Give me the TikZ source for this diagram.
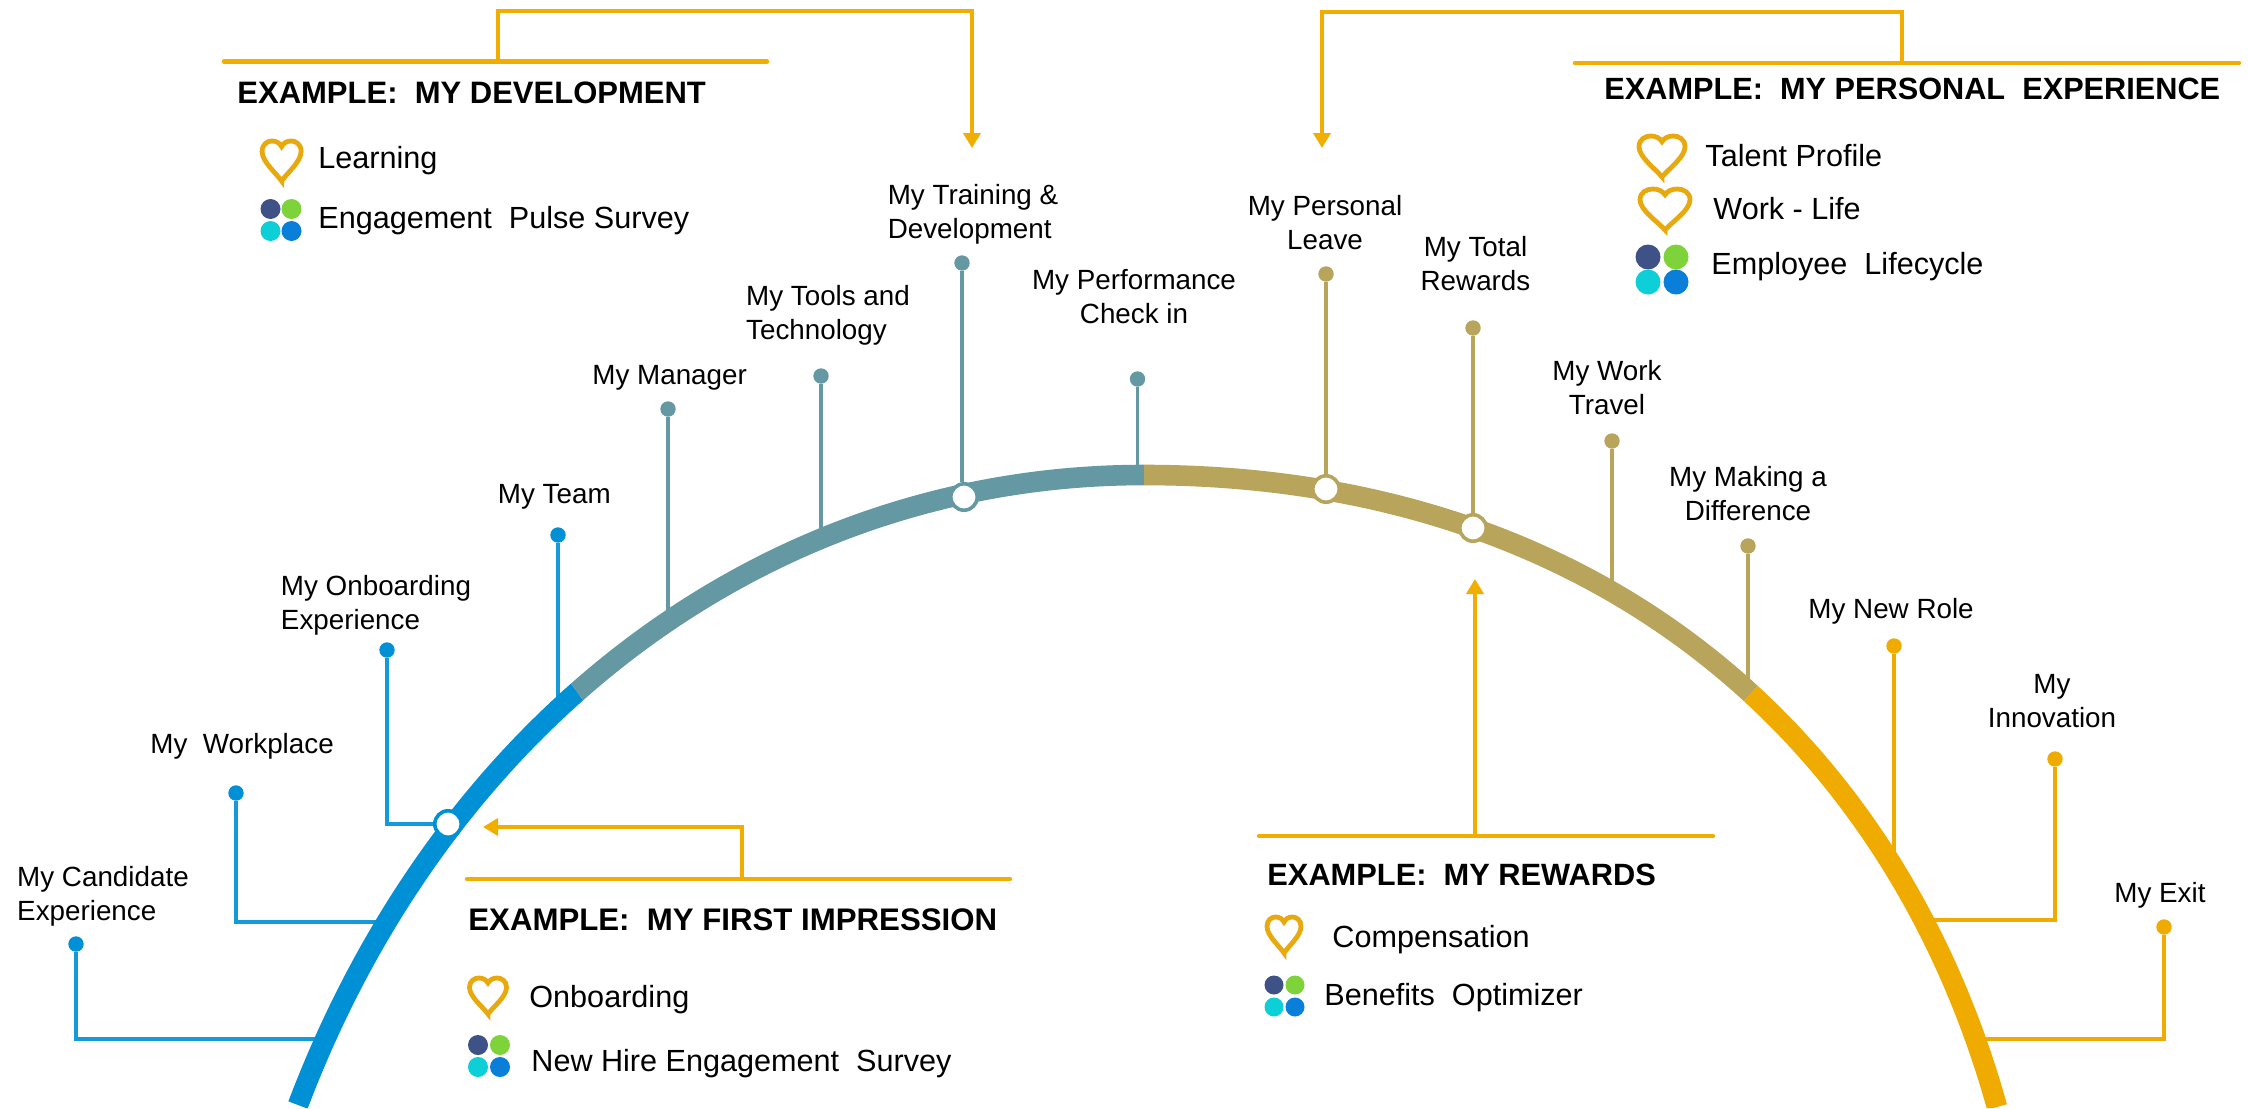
\documentclass[tikz,border=0pt]{standalone}
\usepackage{fontspec}
\setmainfont{Liberation Sans}
\usetikzlibrary{arrows.meta,calc}
\definecolor{cblue}{HTML}{0090D6}
\definecolor{cteal}{HTML}{6499A3}
\definecolor{cgold}{HTML}{B8A45B}
\definecolor{cyell}{HTML}{F0AB00}
\definecolor{corange}{HTML}{F2AE00}
\definecolor{cheart}{HTML}{E8A90E}
\definecolor{tnavy}{HTML}{3F5288}
\definecolor{tgreen}{HTML}{7ED33A}
\definecolor{tcyan}{HTML}{0CCFD8}
\definecolor{tblue}{HTML}{0A7FD9}
\newcommand{\lstrut}{\rule[-4pt]{0pt}{11pt}}
\newcommand{\curveline}[1]{\draw[line width=10.3pt,#1] (298,1105) .. controls (443,722) and (764,475) .. (1144,475) .. controls (1594,475) and (1892.5,733) .. (1997,1107);}
\newcommand{\heartshape}[5]{\begin{scope}[shift={(#2,#3)},xscale=#4,yscale=#5]
\draw[heartline] (0,1) .. controls (-.14,.8) and (-.5,.52) .. (-.5,.26) .. controls (-.5,.08) and (-.36,0) .. (-.25,0) .. controls (-.13,0) and (-.05,.05) .. (0,.14) .. controls (.05,.05) and (.13,0) .. (.25,0) .. controls (.36,0) and (.5,.08) .. (.5,.26) .. controls (.5,.52) and (.14,.8) .. cycle;
\end{scope}}
\newcommand{\tiles}[5]{\fill[tnavy] (#1-#3,#2-#4) circle[radius=#5];
\fill[tgreen] (#1+#3,#2-#4) circle[radius=#5];
\fill[tcyan] (#1-#3,#2+#4) circle[radius=#5];
\fill[tblue] (#1+#3,#2+#4) circle[radius=#5];}
\tikzset{
  lab/.style={font=\fontsize{13.9pt}{17pt}\selectfont,inner sep=0pt,anchor=base west},
  labc/.style={font=\fontsize{13.9pt}{17pt}\selectfont,inner sep=0pt,anchor=center,align=center},
  labl/.style={font=\fontsize{13.9pt}{17pt}\selectfont,inner sep=0pt,anchor=center,align=left},
  bodytext/.style={font=\fontsize{15.3pt}{18pt}\selectfont,inner sep=0pt,anchor=base west},
  titletext/.style={font=\fontsize{#1}{18pt}\selectfont\bfseries,inner sep=0pt,anchor=base west},
  dotnode/.style={circle,inner sep=0pt,minimum size=7.7pt,fill=#1,draw=none},
  ringnode/.style={circle,inner sep=0pt,minimum size=13.2pt,fill=white,draw=#1,line width=1.8pt},
  stem/.style={line width=1.8pt,draw=#1},
  bar/.style={line width=2.2pt,draw=corange,line cap=round},
  linkarrow/.style={line width=2pt,draw=corange,-{Triangle[length=7.5pt,width=8.5pt]}},
  heartline/.style={draw=cheart,line width=2.4pt,line join=miter,fill=white},
}
\begin{document}
\begin{tikzpicture}[x=0.5pt,y=-0.5pt]
\useasboundingbox (0,0) rectangle (2248,1108);
\fill[white] (0,0) rectangle (2248,1108);
% stem nodes
\node[dotnode=cblue] (d1) at (76,944) {};
\node[dotnode=cblue] (d2) at (236,793) {};
\node[dotnode=cblue] (d3) at (387,650) {};
\node[dotnode=cblue] (d4) at (558,535) {};
\node[dotnode=cteal] (d5) at (668,409) {};
\node[dotnode=cteal] (d6) at (821,376) {};
\node[dotnode=cteal] (d7) at (962,263) {};
\node[dotnode=cteal] (d8) at (1137.5,379) {};
\node[dotnode=cgold] (d9) at (1326,274) {};
\node[dotnode=cgold] (d10) at (1473,328) {};
\node[dotnode=cgold] (d11) at (1612,441) {};
\node[dotnode=cgold] (d12) at (1748,546) {};
\node[dotnode=cyell] (d13) at (1894,646) {};
\node[dotnode=cyell] (d14) at (2055,759) {};
\node[dotnode=cyell] (d15) at (2164,927) {};
\coordinate (e1) at (323,1039);
\coordinate (e2) at (382,922);
\coordinate (e4) at (558,712);
\coordinate (e5) at (668,623);
\coordinate (e6) at (821,545);
\coordinate (e8) at (1137.5,480);
\coordinate (e11) at (1612,597);
\coordinate (e12) at (1748,690);
\coordinate (e13) at (1894,863);
\coordinate (e14) at (1927,920);
\coordinate (e15) at (1978,1039);
\draw[stem=cblue!92!white] (d1) |- (e1);
\draw[stem=cblue!92!white] (d2) |- (e2);
\draw[stem=cblue!92!white] (d4) -- (e4);
\draw[stem=cteal] (d5) -- (e5);
\draw[stem=cteal] (d6) -- (e6);
\draw[stem=cteal] (d8) -- (e8);
\draw[stem=cgold] (d11) -- (e11);
\draw[stem=cgold] (d12) -- (e12);
\draw[stem=cyell] (d13) -- (e13);
\draw[stem=cyell] (d14) |- (e14);
\draw[stem=cyell] (d15) |- (e15);
% the band
\begin{scope}\clip (70,0) -- (882,1108) -- (0,1108) -- (0,0) -- cycle; \curveline{cblue} \end{scope}
\begin{scope}\clip (70,0) -- (1144,0) -- (1144,1108) -- (882,1108) -- cycle; \curveline{cteal} \end{scope}
\begin{scope}\clip (1144,0) -- (2395,0) -- (1366,1108) -- (1144,1108) -- cycle; \curveline{cgold} \end{scope}
\begin{scope}\clip (2395,0) -- (2600,0) -- (2600,1108) -- (1366,1108) -- cycle; \curveline{cyell} \end{scope}
% ring nodes
\node[ringnode=cblue] (r1) at (448,824) {};
\node[ringnode=cteal] (r2) at (964,497) {};
\node[ringnode=cgold] (r3) at (1326,489) {};
\node[ringnode=cgold] (r4) at (1473,528) {};
\draw[stem=cblue!92!white] (d3) |- (r1.west);
\draw[stem=cteal] (d7) -- (d7 |- r2.north);
\draw[stem=cgold] (d9) -- (r3.north);
\draw[stem=cgold] (d10) -- (r4.north);
% labels
\node[labl] (l1) at (103,897) {My Candidate\lstrut\\Experience\lstrut};
\node[lab] (l2) at (150,753) {My\ \ Workplace};
\node[labl] (l3) at (376,606) {My Onboarding\lstrut\\Experience\lstrut};
\node[lab] (l4) at (497.5,503) {My Team};
\node[lab] (l5) at (592,384) {My Manager};
\node[labl] (l6) at (828,316) {My Tools and\lstrut\\Technology\lstrut};
\node[labl] (l7) at (973,215) {My Training \&\lstrut\\Development\lstrut};
\node[labc] (l8) at (1134,300) {My Performance\lstrut\\Check in\lstrut};
\node[labc] (l9) at (1325,226) {My Personal\lstrut\\Leave\lstrut};
\node[labc] (l10) at (1475.5,267) {My Total\lstrut\\Rewards\lstrut};
\node[labc] (l11) at (1607,391) {My Work\lstrut\\Travel\lstrut};
\node[labc] (l12) at (1748,497) {My Making a\lstrut\\Difference\lstrut};
\node[lab] (l13) at (1808,618) {My New Role};
\node[labc] (l14) at (2052,705) {My\lstrut\\Innovation\lstrut};
\node[lab] (l15) at (2114,902) {My Exit};
% titled boxes
\coordinate (b1l) at (224,61.5); \coordinate (b1r) at (767,61.5);
\coordinate (b2l) at (1575,63); \coordinate (b2r) at (2239,63);
\coordinate (b3l) at (467,879); \coordinate (b3r) at (1010,879);
\coordinate (b4l) at (1259,836); \coordinate (b4r) at (1713,836);
\foreach \a/\b in {b1l/b1r,b2l/b2r,b3l/b3r,b4l/b4r} \draw[bar] (\a) -- (\b);
\coordinate (f1) at (498,60); \coordinate (t1) at (972,148);
\coordinate (f2) at (1902,62); \coordinate (t2) at (1322,148);
\coordinate (f3) at (742,878); \coordinate (t3) at (483,827);
\coordinate (f4) at (1475,835); \coordinate (t4) at (1475,579);
\draw[linkarrow] (f1) -- (498,11) -- (972,11) -- (t1);
\draw[linkarrow] (f2) -- (1902,12) -- (1322,12) -- (t2);
\draw[linkarrow] (f3) |- (t3);
\draw[linkarrow] (f4) -- (t4);
\node[titletext=15.5pt] (h1) at (237,103.5) {EXAMPLE:\ \ MY DEVELOPMENT};
\node[titletext=15.35pt] (h2) at (1604,99) {EXAMPLE:\ \ MY PERSONAL\ \ EXPERIENCE};
\node[titletext=15.6pt] (h3) at (468,930) {EXAMPLE:\ \ MY FIRST IMPRESSION};
\node[titletext=15.4pt] (h4) at (1267,885) {EXAMPLE:\ \ MY REWARDS};
\node[bodytext] (t11) at (318,168) {Learning};
\node[bodytext] (t12) at (318,228) {Engagement\ \ Pulse Survey};
\node[bodytext] (t21) at (1705,166) {Talent Profile};
\node[bodytext] (t22) at (1713,219) {Work - Life};
\node[bodytext] (t23) at (1711,274) {Employee\ \ Lifecycle};
\node[bodytext] (t31) at (529,1007) {Onboarding};
\node[bodytext] (t32) at (531,1071) {New Hire Engagement\ \ Survey};
\node[bodytext] (t41) at (1332,947) {Compensation};
\node[bodytext] (t42) at (1324,1005) {Benefits\ \ Optimizer};
% icons
\heartshape{a}{281.6}{141}{39}{40}
\heartshape{b}{488}{978}{37}{36}
\heartshape{c}{1662}{136}{46}{41}
\heartshape{d}{1665}{189}{50}{41}
\heartshape{e}{1284}{917}{34}{36}
\tiles{281}{220}{10.5}{11}{10}
\tiles{489}{1056}{11}{11}{10}
\tiles{1662}{269.5}{14}{12.5}{12.5}
\tiles{1284.5}{996}{10.5}{11}{9.5}
\end{tikzpicture}
\end{document}
